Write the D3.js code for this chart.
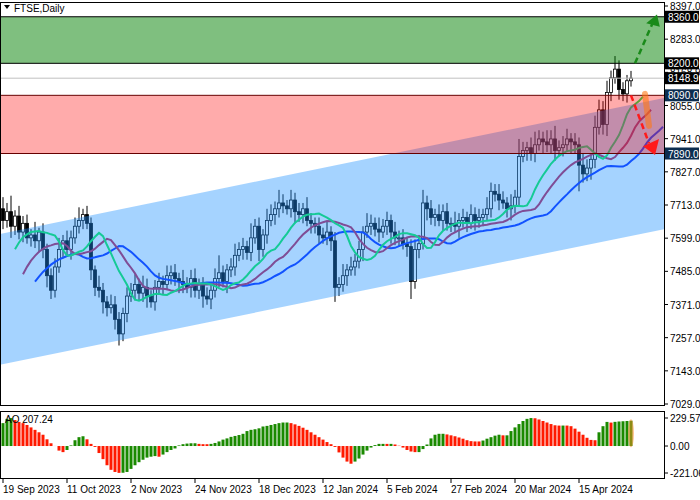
<!DOCTYPE html>
<html><head><meta charset="utf-8">
<script src="https://cdn.jsdelivr.net/npm/d3@7"></script>
<style>body{margin:0;background:#fff}svg{font-family:"Liberation Sans",Arial,sans-serif}</style>
</head><body><svg id="c" width="700" height="500"></svg>
<script>
const closes=[7660,7690,7640,7675,7620,7650,7600,7610,7590,7620,7560,7470,7420,7500,7560,7590,7560,7600,7640,7660,7680,7650,7490,7430,7420,7380,7360,7370,7320,7270,7340,7400,7420,7440,7410,7430,7400,7380,7430,7450,7440,7470,7480,7460,7450,7440,7430,7460,7420,7440,7400,7390,7420,7460,7480,7450,7490,7500,7540,7560,7570,7550,7600,7640,7560,7610,7660,7680,7700,7720,7710,7700,7730,7690,7680,7700,7660,7650,7640,7610,7600,7620,7590,7430,7440,7470,7490,7500,7520,7560,7620,7640,7650,7630,7620,7640,7660,7620,7600,7600,7580,7570,7450,7560,7580,7720,7700,7670,7680,7660,7690,7650,7650,7640,7660,7670,7650,7680,7660,7670,7680,7700,7760,7750,7730,7720,7700,7710,7740,7880,7900,7910,7890,7920,7940,7930,7920,7940,7900,7910,7920,7940,7930,7920,7850,7820,7840,7870,7980,8040,7990,8100,8150,8180,8110,8095,8140,8148.9];
const wickUp=[40,30,55,20,35,25,30,20,45,15,30,20,25,30,40,20,35,25,30,45,20,30,20,15,40,25,20,35,30,25,20,30,25,35,20,40,30,20,25,30,20,35,25,30,20,40,25,30,35,20,25,30,20,35,60,25,20,30,40,25,30,20,50,25,30,20,40,35,25,45,30,20,35,25,30,20,40,25,20,30,25,35,20,30,25,40,20,35,25,30,20,45,30,20,40,25,30,20,35,25,30,20,25,35,30,45,25,30,20,35,25,30,20,40,25,30,20,35,25,30,20,40,30,25,35,30,20,40,25,60,30,20,35,45,30,25,40,30,45,25,30,35,20,30,25,40,30,20,40,35,30,40,25,45,30,25,20,25];
const wickDn=[30,25,40,30,25,35,20,30,25,40,30,40,30,25,20,30,25,35,20,25,30,20,35,30,25,40,30,20,35,40,25,30,20,35,25,30,40,20,30,25,35,20,30,25,40,30,20,35,25,30,40,20,35,25,30,20,40,25,30,20,35,25,30,20,40,25,30,20,35,30,25,20,30,40,25,30,20,35,25,30,20,25,35,50,30,25,35,20,30,25,40,20,30,25,35,20,30,40,25,30,20,35,60,25,30,20,40,25,30,20,35,25,30,20,40,25,30,20,35,25,30,20,30,25,35,20,30,40,25,30,20,35,25,30,20,40,25,30,35,20,30,25,40,30,90,30,25,40,30,25,35,40,30,20,35,25,30,20];
const ao=[187.5,222.5,229,212.5,197.5,187.5,172.5,152.5,132.5,112.5,92.5,55,22.5,0.5,-37.5,-50,-32.5,5,47.5,72.5,80,55,17.5,-7.5,-57.5,-107.5,-157.5,-195,-212.5,-220,-219,-212.5,-187.5,-157.5,-132.5,-112.5,-95,-87.5,-82.5,-87.5,-70,-50,-32.5,-20,5,15,20,22.5,22.6,17.5,15,14.8,17.5,25,37.5,52.5,62.5,75,82.5,90,100,122.5,132.5,137.5,145,160,165,172.5,180,187.5,192.5,192.6,187.5,177.5,165,150,132.5,112.5,92.5,72.5,52.5,32.5,15,-7.5,-52.5,-95,-127.5,-145,-127.5,-102.5,-70,-37.5,-12.5,7.5,17.5,17.6,17.4,17.5,12.5,2.5,-12.5,-32.5,-45,-50,-49.8,-25,12.5,62.5,92.5,100,100.2,95,87.5,80,70,60,47.5,40,37.5,37.4,45,60,72.5,85,92.5,87.5,87.6,122.5,152.5,180,205,222.5,229,227.5,217.5,205,192.5,180,170,167.5,167.6,167.5,162.5,142.5,117.5,92.5,67.5,50,47.5,112.5,162.5,197.5,192,198,201,203,205,207.24];
const dateLabels=["19 Sep 2023","11 Oct 2023","2 Nov 2023","24 Nov 2023","18 Dec 2023","12 Jan 2024","5 Feb 2024","27 Feb 2024","20 Mar 2024","15 Apr 2024"];
const priceTicks=[8397.0,8283.0,8168.9,8055.0,7941.0,7827.0,7713.0,7599.0,7485.0,7371.0,7257.0,7143.0,7029.0];
const aoTicks=[229.57,0.00,-221.06];
const levels=[{p:8360,bg:"#000"},{p:8200,bg:"#000"},{p:8148.9,bg:"#000"},{p:8090,bg:"#0c2d4f"},{p:7890,bg:"#0c2d4f"}];
const greenZone=[8200,8360], redZone=[7890,8090];
const channel={upper:[7613,8081],lower:[7164,7630]};
const alligatorSeed={jaw:7430,teeth:7445,lips:7530};

const svg=d3.select("#c");
const W=664;
const x=d3.scaleLinear().domain([0,1]).range([3,7]);
const y=d3.scaleLinear().domain([7029,8397]).range([404,6]);
const ya=d3.scaleLinear().domain([-221.06,229.57]).range([473,418]);
const n=closes.length;
const bars=closes.map((c,i)=>{const o=i?closes[i-1]:7700;return{i,o,c,h:Math.max(o,c)+wickUp[i],l:Math.min(o,c)-wickDn[i]};});

const main=svg.append("g");
main.append("defs").append("clipPath").attr("id","mc").append("rect").attr("x",0).attr("y",2).attr("width",W).attr("height",403);
const g=main.append("g").attr("clip-path","url(#mc)");
const cg=g.append("g");
cg.selectAll("line").data(bars).join("line").attr("x1",d=>x(d.i)).attr("x2",d=>x(d.i)).attr("y1",d=>y(d.h)).attr("y2",d=>y(d.l)).attr("stroke","#000");
cg.selectAll("rect").data(bars).join("rect").attr("x",d=>x(d.i)-1.5).attr("width",3)
 .attr("y",d=>y(Math.max(d.o,d.c))).attr("height",d=>Math.max(1,Math.abs(y(d.o)-y(d.c))))
 .attr("fill",d=>d.c>=d.o?"#fff":"#000").attr("stroke","#000").attr("stroke-width",0.8);
function smma(p,seed){let v=seed;return bars.map(b=>{const m=(b.h+b.l)/2;v=(v*(p-1)+m)/p;return v;});}
const lines=[{p:13,s:8,seed:alligatorSeed.jaw,col:"#0a2aff"},{p:8,s:5,seed:alligatorSeed.teeth,col:"#c02050"},{p:5,s:3,seed:alligatorSeed.lips,col:"#10f050"}];
lines.forEach(L=>{const v=smma(L.p,L.seed);g.append("path").datum(v).attr("fill","none").attr("stroke",L.col).attr("stroke-width",2)
 .attr("d",d3.line().x((d,i)=>x(i+L.s)).y(d=>y(d)));});
g.append("path").attr("d",`M0,${y(channel.upper[0])}L${W},${y(channel.upper[1])}L${W},${y(channel.lower[1])}L0,${y(channel.lower[0])}Z`).attr("fill","rgba(30,144,255,0.4)");
g.append("rect").attr("x",0).attr("width",W).attr("y",y(greenZone[1])).attr("height",y(greenZone[0])-y(greenZone[1])).attr("fill","rgba(0,128,0,0.5)");
g.append("rect").attr("x",0).attr("width",W).attr("y",y(redZone[1])).attr("height",y(redZone[0])-y(redZone[1])).attr("fill","rgba(255,0,0,0.33)");
g.append("line").attr("x1",0).attr("x2",W).attr("y1",y(8148.9)).attr("y2",y(8148.9)).attr("stroke","#c0c0c0");
[[8360,"#000"],[8200,"#000"],[8090,"#600"],[7890,"#600"]].forEach(([p,c])=>g.append("line").attr("x1",0).attr("x2",W).attr("y1",y(p)).attr("y2",y(p)).attr("stroke",c));
g.append("line").attr("x1",x(158)).attr("y1",y(8200)).attr("x2",x(162.3)).attr("y2",y(8335)).attr("stroke","#1a8a1a").attr("stroke-width",2.5).attr("stroke-dasharray","6,4");
g.append("path").attr("d",`M${x(163.5)},${y(8368)}L${x(160.8)},${y(8338)}L${x(164.2)},${y(8326)}Z`).attr("fill","#1a8a1a");
g.append("line").attr("x1",x(160.5)).attr("y1",y(8095)).attr("x2",x(161.5)).attr("y2",y(7985)).attr("stroke","rgba(255,120,20,0.6)").attr("stroke-width",6).attr("stroke-linecap","round");
g.append("line").attr("x1",x(157)).attr("y1",y(8090)).attr("x2",x(161.5)).attr("y2",y(7925)).attr("stroke","#ff1a1a").attr("stroke-width",2.5).attr("stroke-dasharray","6,4");
g.append("path").attr("d",`M${x(163)},${y(7885)}L${x(160)},${y(7915)}L${x(164)},${y(7940)}Z`).attr("fill","#ff1a1a");
main.append("rect").attr("x",0.5).attr("y",2.5).attr("width",W).attr("height",403).attr("fill","none").attr("stroke","#000");
const ax=svg.append("g");
priceTicks.forEach(p=>{ax.append("line").attr("x1",W).attr("x2",W+4).attr("y1",y(p)).attr("y2",y(p)).attr("stroke","#000");
 ax.append("text").attr("x",W+6).attr("y",y(p)+4).attr("font-size",10).text(p.toFixed(1));});
levels.forEach(L=>{ax.append("rect").attr("x",W+1).attr("y",y(L.p)-6).attr("width",34).attr("height",12).attr("fill",L.bg);
 ax.append("text").attr("x",W+4).attr("y",y(L.p)+4).attr("font-size",10).attr("fill","#fff").text(L.p.toFixed(1));});
svg.append("path").attr("d","M4,5L10,5L7,9Z").attr("fill","#000");
svg.append("text").attr("x",14).attr("y",12).attr("font-size",10).text("FTSE,Daily");
const ap=svg.append("g");
ap.selectAll("rect").data(ao).join("rect").attr("x",(d,i)=>x(i)-1.5).attr("width",3)
 .attr("y",d=>Math.min(ya(d),ya(0))).attr("height",d=>Math.abs(ya(d)-ya(0)))
 .attr("fill",(d,i)=>i===0||d>=ao[i-1]?"#1a8a00":"#ff1a00");
ap.append("ellipse").attr("cx",x(n-1)).attr("cy",(ya(ao[n-1])+ya(0))/2).attr("rx",3).attr("ry",14).attr("fill","rgba(255,140,40,0.5)");
ap.append("rect").attr("x",0.5).attr("y",411.5).attr("width",W).attr("height",67).attr("fill","none").attr("stroke","#000");
ap.append("text").attr("x",5).attr("y",423).attr("font-size",10).text("AO 207.24");
aoTicks.forEach(v=>{ap.append("line").attr("x1",W).attr("x2",W+4).attr("y1",ya(v)).attr("y2",ya(v)).attr("stroke","#000");
 ap.append("text").attr("x",W+6).attr("y",ya(v)+4).attr("font-size",10).text(v.toFixed(2));});
dateLabels.forEach((t,k)=>{const xx=x(k*16);svg.append("line").attr("x1",xx).attr("x2",xx).attr("y1",479).attr("y2",483).attr("stroke","#000");
 svg.append("text").attr("x",xx).attr("y",493).attr("font-size",10).text(t);});
</script></body></html>
